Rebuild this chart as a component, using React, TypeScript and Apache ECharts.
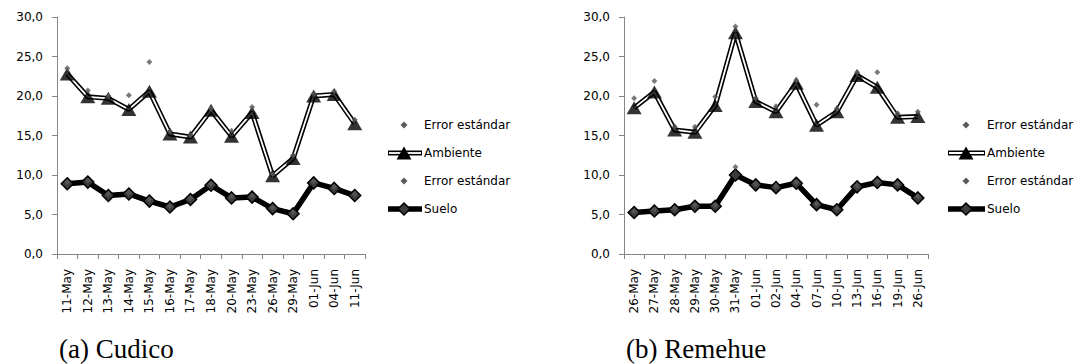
import React, { useEffect, useRef } from "react";
import * as echarts from "echarts";

const cudicoDates = ["11-May","12-May","13-May","14-May","15-May","16-May","17-May","18-May","20-May","23-May","26-May","29-May","01-Jun","04-Jun","11-Jun"];
const cudicoAmbiente = [22.8,19.9,19.7,18.3,20.6,15.2,14.8,18.2,14.9,17.9,9.9,12.1,20.0,20.2,16.5];
const cudicoAmbienteErr = [23.5,20.7,20.0,20.1,24.3,15.5,15.1,18.4,15.6,18.6,10.1,12.5,20.3,20.6,17.0];
const cudicoSuelo = [8.9,9.1,7.4,7.6,6.7,5.95,6.9,8.7,7.1,7.2,5.75,5.1,9.0,8.3,7.4];
const cudicoSueloErr = [9.1,9.3,7.6,7.8,6.9,6.1,7.1,8.9,7.3,7.4,5.9,5.3,9.2,8.5,7.6];

const remehueDates = ["26-May","27-May","28-May","29-May","30-May","31-May","01-Jun","02-Jun","04-Jun","07-Jun","10-Jun","13-Jun","16-Jun","19-Jun","26-Jun"];
const remehueAmbiente = [18.5,20.5,15.7,15.4,18.8,28.0,19.3,18.0,21.6,16.3,18.0,22.6,21.1,17.3,17.4];
const remehueAmbienteErr = [19.7,21.9,16.1,16.1,19.9,28.8,19.7,18.7,22.0,18.9,18.4,23.0,23.0,17.8,18.0];
const remehueSuelo = [5.25,5.45,5.6,6.05,6.05,10.0,8.75,8.4,8.95,6.25,5.6,8.5,9.05,8.75,7.1];
const remehueSueloErr = [5.4,5.6,5.8,6.2,6.2,11.0,8.9,8.6,9.1,6.4,5.8,8.7,9.2,8.9,7.3];

const legendLabels = ["Error estándar", "Ambiente", "Error estándar", "Suelo"];
const captions = ["(a) Cudico", "(b) Remehue"];

const FONT = "DejaVu Sans";
const AXIS_COLOR = "#868686";
const ERR_COLOR = "#5a5a5a";

function makeAxes(gi: number, cats: string[]) {
  const x = {
    type: "category",
    gridIndex: gi,
    data: cats,
    boundaryGap: true,
    axisLine: { lineStyle: { color: AXIS_COLOR, width: 1 } },
    axisTick: { show: true, alignWithLabel: false, length: 5, lineStyle: { color: AXIS_COLOR } },
    axisLabel: { rotate: 90, margin: 15, color: "#000", fontFamily: FONT, fontSize: 12, interval: 0 },
    splitLine: { show: false },
  };
  const y = {
    type: "value",
    gridIndex: gi,
    min: 0,
    max: 30,
    interval: 5,
    axisLine: { show: true, lineStyle: { color: AXIS_COLOR, width: 1 } },
    axisTick: { show: true, length: 5, lineStyle: { color: AXIS_COLOR } },
    axisLabel: {
      margin: 14,
      color: "#000",
      fontFamily: FONT,
      fontSize: 12,
      formatter: (v: number) => v.toFixed(1).replace(".", ","),
    },
    splitLine: { show: false },
  };
  return { x, y };
}

function makeSeries(gi: number, amb: number[], ambErr: number[], suelo: number[], sueloErr: number[]) {
  return [
    {
      type: "line", xAxisIndex: gi, yAxisIndex: gi, data: amb, symbol: "none", z: 2,
      lineStyle: { color: "#000", width: 5 }, silent: true,
    },
    {
      type: "line", xAxisIndex: gi, yAxisIndex: gi, data: amb, symbol: "none", z: 3,
      lineStyle: { color: "#fff", width: 1.8 }, silent: true,
    },
    {
      type: "scatter", xAxisIndex: gi, yAxisIndex: gi, data: amb, symbol: "triangle", symbolSize: [15, 13], z: 4,
      itemStyle: { color: "#000" },
    },
    {
      type: "line", xAxisIndex: gi, yAxisIndex: gi, data: suelo, symbol: "diamond", symbolSize: 12, z: 5,
      showAllSymbol: true,
      lineStyle: { color: "#000", width: 5.5 },
      itemStyle: { color: "#3c3c3c", borderColor: "#000", borderWidth: 1.5 },
    },
    {
      type: "scatter", xAxisIndex: gi, yAxisIndex: gi, data: ambErr, symbol: "diamond", symbolSize: 6, z: 6,
      itemStyle: { color: ERR_COLOR },
    },
    {
      type: "scatter", xAxisIndex: gi, yAxisIndex: gi, data: sueloErr, symbol: "diamond", symbolSize: 6, z: 6,
      itemStyle: { color: ERR_COLOR },
    },
  ];
}

function diamond(cx: number, cy: number, r: number, fill: string, stroke?: string) {
  return {
    type: "polygon",
    shape: { points: [[cx, cy - r], [cx + r, cy], [cx, cy + r], [cx - r, cy]] },
    style: { fill, stroke: stroke || null, lineWidth: stroke ? 1.5 : 0 },
  };
}

function makeLegend(lineX0: number, lineX1: number, symX: number, textX: number, rows: number[]) {
  const els: any[] = [];
  [0, 2].forEach((i) => {
    els.push(diamond(symX, rows[i], 3.5, ERR_COLOR));
  });
  els.push({ type: "line", shape: { x1: lineX0, y1: rows[1], x2: lineX1, y2: rows[1] }, style: { stroke: "#000", lineWidth: 5 } });
  els.push({ type: "line", shape: { x1: lineX0 + 1, y1: rows[1], x2: lineX1 - 1, y2: rows[1] }, style: { stroke: "#fff", lineWidth: 1.8 } });
  els.push({
    type: "polygon",
    shape: { points: [[symX, rows[1] - 6.5], [symX + 7.5, rows[1] + 6.5], [symX - 7.5, rows[1] + 6.5]] },
    style: { fill: "#000" },
  });
  els.push({ type: "line", shape: { x1: lineX0, y1: rows[3], x2: lineX1, y2: rows[3] }, style: { stroke: "#000", lineWidth: 5.5 } });
  els.push(diamond(symX, rows[3], 6, "#3c3c3c", "#000"));
  legendLabels.forEach((t, i) => {
    els.push({
      type: "text",
      x: textX,
      y: rows[i],
      style: { text: t, fill: "#000", font: `12px "${FONT}"`, align: "left", verticalAlign: "middle" },
    });
  });
  return els;
}

export default function App() {
  const ref = useRef<HTMLDivElement>(null);
  useEffect(() => {
    if (!ref.current) return;
    const chart = echarts.init(ref.current, null, { renderer: "svg" });
    const a0 = makeAxes(0, cudicoDates);
    const a1 = makeAxes(1, remehueDates);
    const rows = [125, 153, 181, 209];
    const option: any = {
      animation: false,
      backgroundColor: "#fff",
      grid: [
        { left: 57, top: 17, width: 308, height: 237, containLabel: false },
        { left: 624, top: 17, width: 304, height: 237, containLabel: false },
      ],
      xAxis: [a0.x, a1.x],
      yAxis: [a0.y, a1.y],
      series: [
        ...makeSeries(0, cudicoAmbiente, cudicoAmbienteErr, cudicoSuelo, cudicoSueloErr),
        ...makeSeries(1, remehueAmbiente, remehueAmbienteErr, remehueSuelo, remehueSueloErr),
      ],
      graphic: [
        ...makeLegend(388, 422, 404, 424, rows),
        ...makeLegend(948, 985, 966, 987, rows),
        {
          type: "text", x: 59, y: 349,
          style: { text: captions[0], fill: "#000", font: '27px "Liberation Serif"', align: "left", verticalAlign: "middle" },
        },
        {
          type: "text", x: 626, y: 349,
          style: { text: captions[1], fill: "#000", font: '27px "Liberation Serif"', align: "left", verticalAlign: "middle" },
        },
      ],
    };
    chart.setOption(option);
    return () => chart.dispose();
  }, []);
  return (
    <div
      ref={ref}
      style={{ position: "fixed", left: 0, top: 0, width: 1081, height: 364, background: "#fff" }}
    />
  );
}
